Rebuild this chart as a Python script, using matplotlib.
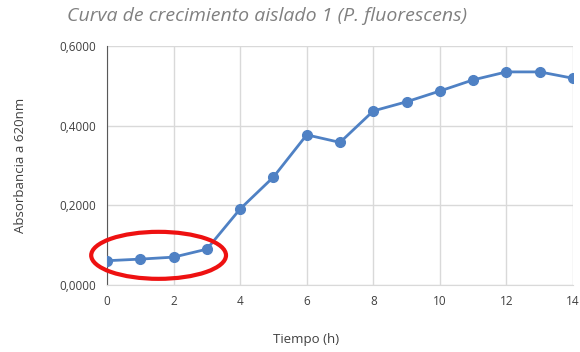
import matplotlib
matplotlib.use("Agg")
import matplotlib.pyplot as plt
from matplotlib.patches import Ellipse
from matplotlib.ticker import FuncFormatter, MultipleLocator

# Absorbance readings at 620 nm, one per hour
tiempo = [0, 1, 2, 3, 4, 5, 6, 7, 8, 9, 10, 11, 12, 13, 14]
absorbancia = [0.061, 0.065, 0.070, 0.090, 0.191, 0.271, 0.377, 0.358,
               0.437, 0.460, 0.487, 0.515, 0.535, 0.535, 0.519]

plt.rcParams['font.family'] = ['Open Sans', 'DejaVu Sans']

fig = plt.figure(figsize=(5.8, 3.52), dpi=100)
ax = fig.add_axes([0.1845, 0.1903, 0.8035, 0.679])

ax.plot(tiempo, absorbancia, color='#4f81c4', linewidth=2, marker='o',
        markersize=7, zorder=3)

# lag phase highlighted with a red ring
ax.add_patch(Ellipse((1.55, 0.0745), 4.05, 0.118, fill=False,
                     edgecolor='#ee1111', linewidth=3, zorder=4,
                     clip_on=False))

ax.set_xlim(0, 14)
ax.set_ylim(0, 0.6)
ax.xaxis.set_major_locator(MultipleLocator(2))
ax.yaxis.set_major_locator(MultipleLocator(0.2))
ax.yaxis.set_major_formatter(FuncFormatter(lambda v, p: f"{v:.4f}".replace('.', ',')))

ax.grid(True, color='#d9d9d9', linewidth=1)
ax.set_axisbelow(True)
for side in ['top', 'right']:
    ax.spines[side].set_visible(False)
ax.spines['left'].set_color('#595959')
ax.spines['bottom'].set_color('#d9d9d9')
ax.tick_params(axis='both', length=0, labelsize=8.5, labelcolor='#404040')
ax.tick_params(axis='y', pad=8)
ax.tick_params(axis='x', pad=7)

fig.text(0.46, 0.955, 'Curva de crecimiento aislado 1 (P. fluorescens)',
         ha='center', va='center', fontsize=14, style='italic', color='#808080')
fig.text(0.527, 0.035, 'Tiempo (h)', ha='center', va='center',
         fontsize=9.5, color='#404040')
fig.text(0.035, 0.53, 'Absorbancia a 620nm', ha='center', va='center',
         rotation=90, fontsize=9.5, color='#404040')

fig.savefig('out.png', dpi=100)
